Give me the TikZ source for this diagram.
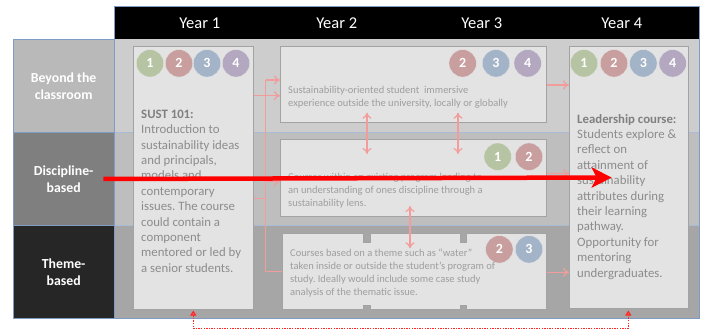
\documentclass[tikz,border=0pt]{standalone}
\usepackage{fontspec}
\setmainfont{Carlito}
\usetikzlibrary{arrows.meta}
\frenchspacing
\definecolor{rowA}{HTML}{CDCDCD}
\definecolor{rowB}{HTML}{BEBEBE}
\definecolor{rowC}{HTML}{A6A6A6}
\definecolor{labA}{HTML}{B9B9B9}
\definecolor{labB}{HTML}{7F7F7F}
\definecolor{labC}{HTML}{262626}
\definecolor{frameblue}{HTML}{7F9CC4}
\definecolor{sepblue}{HTML}{A9BCD6}
\definecolor{boxfill}{HTML}{E3E3E3}
\definecolor{boxline}{HTML}{A3A3A3}
\definecolor{txtdark}{HTML}{8C8C8C}
\definecolor{txthead}{HTML}{808080}
\definecolor{txtlight}{HTML}{9E9E9E}
\definecolor{pinkline}{HTML}{F29C9C}
\definecolor{cgreen}{HTML}{B7C4A3}
\definecolor{cred}{HTML}{C99E9E}
\definecolor{cblue}{HTML}{A3B3C8}
\definecolor{cpurple}{HTML}{B3A8C0}
\begin{document}
\begin{tikzpicture}[x=1pt,y=-1pt,
  bgrect/.style={anchor=north west, inner sep=0, draw=none},
  lab/.style={anchor=north west, inner sep=0, draw=frameblue, line width=0.6pt,
    text=white, align=center, font=\fontsize{13.8}{16.9}\selectfont\bfseries},
  ybox/.style={anchor=north west, inner sep=0, draw=boxline, fill=boxfill, line width=0.8pt},
  num/.style={circle, minimum size=27.5pt, inner sep=0, text=white,
    font=\fontsize{14}{14}\selectfont\bfseries, draw=white!80!gray, line width=0.4pt},
  bodytxt/.style={anchor=north west, inner sep=0, align=left, text=txtdark,
    font=\fontsize{12.8}{15.4}\selectfont},
  smalltxt/.style={anchor=north west, inner sep=0, align=left, text=txtlight,
    font=\fontsize{10.5}{12.8}\selectfont},
  yearlab/.style={text=white, inner sep=0, font=\fontsize{16.5}{18}\selectfont},
  link/.style={draw=pinkline, line width=1.2pt},
  linkarrow/.style={link, -{To[length=6pt,width=9pt]}},
  dbl/.style={link, {To[length=6pt,width=9pt]}-{To[length=6pt,width=9pt]}},
  bigarrow/.style={draw=red, line width=4.5pt, -{Stealth[length=20pt,width=20pt,inset=5pt]}},
  dotline/.style={draw=red!85!white, line width=1.4pt, dash pattern=on 1.4pt off 1.2pt,
    {Triangle[length=5pt,width=6pt,fill=pinkline]}-{Triangle[length=5pt,width=6pt,fill=pinkline]}}
]
\useasboundingbox (0,0) rectangle (701,331);
\fill[white] (0,0) rectangle (701,331);

% header
\node[bgrect, fill=black, minimum width=585pt, minimum height=33pt] (hdr) at (114,6) {};
\node[yearlab] (yr1) at (199.7,23) {Year 1};
\node[yearlab] (yr2) at (336.7,23) {Year 2};
\node[yearlab] (yr3) at (481.7,23) {Year 3};
\node[yearlab] (yr4) at (621.7,23) {Year 4};

% main rows
\node[bgrect, fill=rowA, minimum width=585pt, minimum height=93pt] (mA) at (114,39) {};
\node[bgrect, fill=rowB, minimum width=585pt, minimum height=93pt] (mB) at (114,132) {};
\node[bgrect, fill=rowC, minimum width=585pt, minimum height=93pt] (mC) at (114,225) {};
\draw[sepblue, line width=0.5pt] (mA.south west) -- (mA.south east);
\draw[sepblue, line width=0.5pt] (mB.south west) -- (mB.south east);
\draw[frameblue, line width=0.8pt] (hdr.north west) rectangle (mC.south east);

% left labels
\node[lab, fill=labA, minimum width=101.3pt, minimum height=93pt] (lA) at (12.7,39) {Beyond the\\classroom};
\node[lab, fill=labB, minimum width=101.3pt, minimum height=93pt] (lB) at (12.7,132) {Discipline-\\based};
\node[lab, fill=labC, minimum width=101.3pt, minimum height=93pt] (lC) at (12.7,225) {Theme-\\based};

% boxes
\node[ybox, minimum width=120pt, minimum height=263.3pt] (y1) at (133,45.7) {};
\node[ybox, minimum width=119pt, minimum height=262.3pt] (y4) at (569,45.7) {};
\node[ybox, minimum width=266pt, minimum height=76pt] (b1) at (280,45.7) {};
\node[ybox, minimum width=266pt, minimum height=76.7pt] (b2) at (280,139.3) {};
\node[ybox, minimum width=264.3pt, minimum height=75.7pt] (b3) at (281.7,233.3) {};
% notches of the theme box
\foreach \nx in {363.3,460} {
  \fill[rowC] (\nx,232.4) rectangle ++(6.7,9.6);
  \draw[boxline, line width=0.8pt] (\nx,233.3) -- (\nx,242) -- ++(6.7,0) -- ++(0,-8.7);
  \fill[rowC] (\nx,305) rectangle ++(6.7,4.9);
  \draw[boxline, line width=0.8pt] (\nx,309.3) -- (\nx,305) -- ++(6.7,0) -- ++(0,4.3);
}

% numbered circles
\node[num, fill=cgreen]  (y1n1) at (150,63.3) {1};
\node[num, fill=cred]    (y1n2) at (179,63.3) {2};
\node[num, fill=cblue]   (y1n3) at (207,63.3) {3};
\node[num, fill=cpurple] (y1n4) at (236,63.3) {4};
\node[num, fill=cred]    (b1n2) at (462.7,63.3) {2};
\node[num, fill=cblue]   (b1n3) at (496,63.3) {3};
\node[num, fill=cpurple] (b1n4) at (527.7,63.3) {4};
\node[num, fill=cgreen]  (b2n1) at (497.7,156.7) {1};
\node[num, fill=cred]    (b2n2) at (529,156.7) {2};
\node[num, fill=cred]    (b3n2) at (499.3,249.3) {2};
\node[num, fill=cblue]   (b3n3) at (529,249.3) {3};
\node[num, fill=cgreen]  (y4n1) at (584,63.3) {1};
\node[num, fill=cred]    (y4n2) at (614,63.3) {2};
\node[num, fill=cblue]   (y4n3) at (643.3,63.3) {3};
\node[num, fill=cpurple] (y4n4) at (672.7,63.3) {4};

% texts
\node[bodytxt] (t1) at (141,109.8) {{\bfseries\color{txthead}SUST 101:}\\Introduction to\\sustainability ideas\\and principals,\\models and\\contemporary\\issues. The course\\could contain a\\component\\mentored or led by\\a senior students.};
\node[bodytxt] (t4) at (577,114) {{\bfseries\color{txthead}Leadership course:}\\Students explore \&\\reflect on\\attainment of\\sustainability\\attributes during\\their learning\\pathway.\\Opportunity for\\mentoring\\undergraduates.};
\node[smalltxt] (tb1) at (288,86.5) {Sustainability-oriented student~ immersive\\experience outside the university, locally or globally};
\node[smalltxt] (tb2) at (288,173) {Courses within an existing program leading to\\an understanding of ones discipline through a\\sustainability lens.};
\node[smalltxt] (tb3) at (290,249) {Courses based on a theme such as “water”\\taken inside or outside the student’s program of\\study. Ideally would include some case study\\analysis of the thematic issue.};

% pink connectors
\coordinate (h1) at (0,80);
\coordinate (h2) at (0,95.7);
\coordinate (h3) at (0,181.5);
\coordinate (h4) at (0,198.3);
\coordinate (h5) at (0,271.7);
\coordinate (vx) at (265.7,0);
\coordinate (r1) at (0,85);
\coordinate (r2) at (0,173.3);
\coordinate (r3) at (0,272.3);
\draw[link] (vx |- h1) -- (vx |- h5) -- (b3.west |- h5);
\draw[linkarrow] (vx |- h1) -- (b1.west |- h1);
\draw[linkarrow] (y1.east |- h2) -- (b1.west |- h2);
\draw[linkarrow] (vx |- h3) -- (b2.west |- h3);
\draw[link] (y1.east |- h4) -- (vx |- h4);
\draw[linkarrow] (b1.east |- r1) -- (y4.west |- r1);
\draw[linkarrow] (b2.east |- r2) -- (y4.west |- r2);
\draw[linkarrow] (b3.east |- r3) -- (y4.west |- r3);
\coordinate (da1) at (367,112.7);
\coordinate (da2) at (367,154);
\coordinate (db1) at (458,112.7);
\coordinate (db2) at (458,154);
\coordinate (dc1) at (410,206);
\coordinate (dc2) at (410,248.3);
\draw[dbl] (da1) -- (da2);
\draw[dbl] (db1) -- (db2);
\draw[dbl] (dc1) -- (dc2);

% big red arrow
\coordinate (rs) at (103.3,179);
\coordinate (re) at (611.7,177.5);
\draw[bigarrow] (rs) -- (re);

% dotted feedback line
\coordinate (fa) at (193.3,310.5);
\coordinate (fb) at (628.3,310.5);
\draw[dotline] (fa) -- ++(0,17.8) -| (fb);
\end{tikzpicture}
\end{document}
